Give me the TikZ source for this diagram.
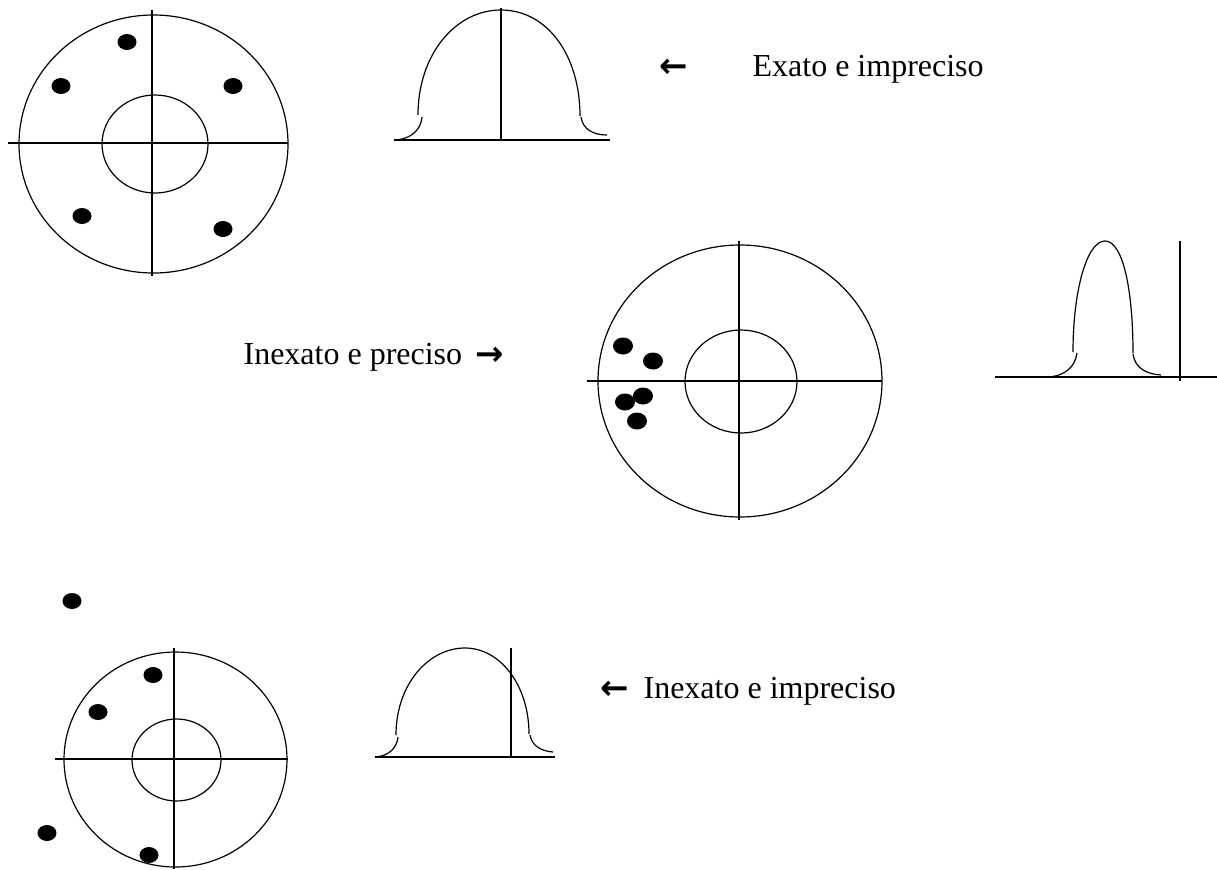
\documentclass[tikz,border=0pt]{standalone}
\usepackage{fontspec}
\setmainfont{Liberation Serif}
\newfontfamily\arrowfont{DejaVu Sans}
\usepackage{tikz}

\begin{document}
\begin{tikzpicture}[
    x=0.5pt, y=-0.5pt,
    line width=0.6pt,
    ring/.style={draw=black},
    axis/.style={draw=black},
    bell/.style={draw=black},
    dot/.style={fill=black},
    txt/.style={inner sep=0pt, anchor=base west, font=\fontsize{16}{19}\selectfont},
    arrowsym/.style={txt, font=\fontsize{17}{19}\selectfont\arrowfont\bfseries}
]
\useasboundingbox (0,0) rectangle (1217,869);

% ==================== TARGET 1: EXATO E IMPRECISO ====================
\draw[ring] (153.5,144) ellipse [x radius=134.5, y radius=129];
\draw[ring] (155,144) ellipse [x radius=53, y radius=49];
\draw[axis] (152,10) -- (152,276);
\draw[axis] (8,143) -- (288,143);
\fill[dot] (127,42) ellipse [x radius=9.5, y radius=8];
\fill[dot] (61,86) ellipse [x radius=9.5, y radius=8];
\fill[dot] (233,86) ellipse [x radius=9.5, y radius=8];
\fill[dot] (82,216) ellipse [x radius=9.5, y radius=8];
\fill[dot] (223,229) ellipse [x radius=9.5, y radius=8];

% distribution 1
\draw[axis] (394,140) -- (610,140);
\draw[axis] (501,8) -- (501,140);
\draw[bell] (418,115) .. controls (418,55) and (455,10) .. (501,10) .. controls (547,10) and (580,55) .. (580,116);
\draw[bell] (395,140) .. controls (412,139) and (421,129) .. (422,117);
\draw[bell] (581,117) .. controls (583,130) and (594,135) .. (607,135);

\node[arrowsym] (exatoarrow) at (659,77) {←};
\node[txt] (exato) at (752,76) {Exato e impreciso};

% ==================== TARGET 2: INEXATO E PRECISO ====================
\draw[ring] (740,381) ellipse [x radius=142, y radius=136];
\draw[ring] (741,381.5) ellipse [x radius=56, y radius=51.5];
\draw[axis] (739,241) -- (739,520);
\draw[axis] (587,381) -- (882,381);
\fill[dot] (623,346) ellipse [x radius=10, y radius=8.5];
\fill[dot] (653,361) ellipse [x radius=10, y radius=8.5];
\fill[dot] (643,396) ellipse [x radius=10, y radius=8.5];
\fill[dot] (625,402) ellipse [x radius=10, y radius=8.5];
\fill[dot] (637,421) ellipse [x radius=10, y radius=8.5];

% distribution 2
\draw[axis] (995,377) -- (1217,377);
\draw[axis] (1180,241) -- (1180,381);
\draw[bell] (1073,352) .. controls (1073,290) and (1087,241) .. (1105,241) .. controls (1123,241) and (1133,290) .. (1133,353);
\draw[bell] (1048,377) .. controls (1065,376) and (1075,367) .. (1077,353);
\draw[bell] (1133,354) .. controls (1135,368) and (1146,374) .. (1161,375);

\node[txt] (preciso) at (243,364) {Inexato e preciso};
\node[arrowsym] (precisoarrow) at (475,365) {→};

% ==================== TARGET 3: INEXATO E IMPRECISO ====================
\draw[ring] (175.5,759.5) ellipse [x radius=111.5, y radius=107.5];
\draw[ring] (176.5,760) ellipse [x radius=44.5, y radius=41];
\draw[axis] (174,648) -- (174,869);
\draw[axis] (55,759) -- (288,759);
\fill[dot] (72,601) ellipse [x radius=9.5, y radius=8];
\fill[dot] (153,675) ellipse [x radius=9.5, y radius=8];
\fill[dot] (98,712) ellipse [x radius=9.5, y radius=8];
\fill[dot] (47,833) ellipse [x radius=9.5, y radius=8];
\fill[dot] (149,855) ellipse [x radius=9.5, y radius=8];

% distribution 3
\draw[axis] (375,757) -- (555,757);
\draw[axis] (511,648) -- (511,758);
\draw[bell] (396,735) .. controls (396,685) and (428,648) .. (465,648) .. controls (500,648) and (529,685) .. (529,734);
\draw[bell] (375,757) .. controls (390,756) and (397,747) .. (398,737);
\draw[bell] (530,735) .. controls (532,746) and (541,751) .. (553,752);

\node[arrowsym] (imprecisoarrow) at (600,699) {←};
\node[txt] (impreciso) at (643,698) {Inexato e impreciso};

\end{tikzpicture}
\end{document}
